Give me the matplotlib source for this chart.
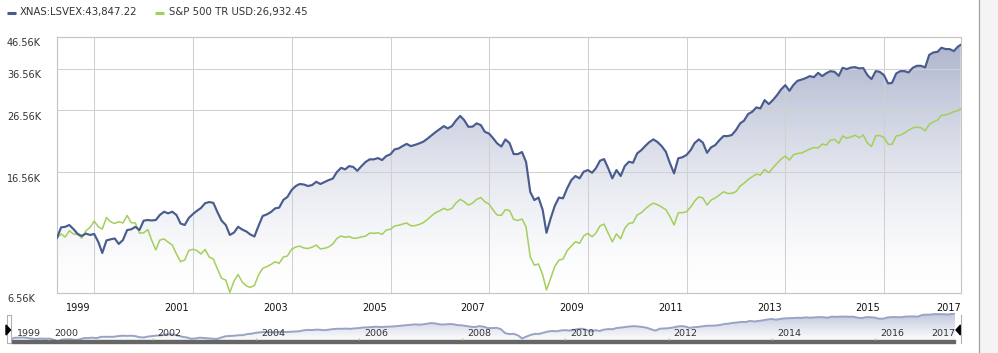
import numpy as np
import pandas as pd
import matplotlib
matplotlib.use('Agg')
import matplotlib.pyplot as plt
from matplotlib import transforms
from matplotlib.colors import LinearSegmentedColormap
from matplotlib.patches import Polygon, Rectangle
from matplotlib.lines import Line2D
from matplotlib.ticker import NullLocator

W, H = 998, 353

# month-end points, last one is a partial month
dates = list(pd.date_range('1999-04-01', periods=220, freq='MS') - pd.Timedelta(days=1))
dates.append(pd.Timestamp('2017-07-21'))

# growth of 10K, values in thousands
lsvex = [10.0, 10.84, 10.89, 11.04, 10.70, 10.31, 10.15, 10.34, 10.23, 10.31,
         9.69, 8.91, 9.81, 9.89, 9.96, 9.55, 9.84, 10.62, 10.68, 10.89,
         10.62, 11.41, 11.47, 11.43, 11.47, 11.92, 12.22, 12.07, 12.22, 11.92,
         11.17, 11.04, 11.65, 12.01, 12.32, 12.57, 13.05, 13.16, 13.08, 12.19,
         11.41, 11.04, 10.23, 10.42, 10.89, 10.66, 10.50, 10.27, 10.11, 10.96,
         11.83, 11.97, 12.19, 12.54, 12.61, 13.38, 13.69, 14.43, 14.88, 15.11,
         15.05, 14.88, 14.99, 15.37, 15.11, 15.34, 15.57, 15.75, 16.56, 17.10,
         16.90, 17.33, 17.22, 16.72, 17.33, 17.88, 18.25, 18.25, 18.43, 18.15,
         18.72, 18.96, 19.70, 19.82, 20.20, 20.54, 20.20, 20.38, 20.61, 20.88,
         21.36, 21.93, 22.48, 23.00, 23.54, 23.13, 23.54, 24.56, 25.45, 24.65,
         23.41, 23.44, 24.04, 23.72, 22.53, 22.23, 21.43, 20.62, 20.13, 21.26,
         20.67, 19.00, 19.00, 19.30, 17.88, 14.21, 13.36, 13.62, 12.38, 10.40,
         11.62, 12.77, 13.62, 13.54, 14.62, 15.57, 16.06, 15.78, 16.60, 16.81,
         16.47, 17.03, 18.06, 18.29, 17.03, 15.78, 16.81, 16.06, 17.33, 17.92,
         17.78, 19.10, 19.59, 20.20, 20.83, 21.26, 20.83, 20.20, 19.35, 17.70,
         16.39, 18.40, 18.54, 18.87, 19.59, 20.67, 21.26, 20.75, 19.19, 20.01,
         20.36, 21.15, 21.81, 21.81, 21.98, 22.83, 24.04, 24.52, 25.81, 26.26,
         27.16, 26.95, 28.72, 27.86, 28.72, 29.84, 31.17, 32.21, 30.84, 32.21,
         33.29, 33.60, 33.99, 34.51, 34.25, 35.39, 34.51, 35.31, 35.85, 35.66,
         34.59, 36.78, 36.41, 36.84, 36.97, 36.61, 36.69, 34.78, 33.73, 35.85,
         35.66, 34.78, 32.63, 32.78, 35.23, 35.85, 35.85, 35.50, 36.78, 37.35,
         37.35, 36.89, 40.60, 41.37, 41.56, 42.89, 42.45, 42.45, 41.79, 43.24,
         43.85]

sp500tr = [10.0, 10.31, 10.07, 10.56, 10.31, 10.27, 9.99, 10.56, 10.83, 11.38,
           10.89, 10.70, 11.69, 11.32, 11.17, 11.32, 11.21, 11.88, 11.24, 11.21,
           10.38, 10.40, 10.66, 9.84, 9.12, 9.84, 9.92, 9.69, 9.47, 8.84,
           8.34, 8.44, 9.08, 9.17, 9.07, 8.84, 9.16, 8.64, 8.51, 7.88,
           7.34, 7.24, 6.59, 7.19, 7.56, 7.13, 6.92, 6.85, 6.95, 7.53,
           7.92, 8.03, 8.16, 8.33, 8.23, 8.64, 8.71, 9.17, 9.33, 9.39,
           9.26, 9.22, 9.32, 9.47, 9.19, 9.24, 9.33, 9.55, 9.96, 10.15,
           10.05, 10.11, 9.97, 9.99, 10.09, 10.13, 10.38, 10.36, 10.40, 10.28,
           10.62, 10.68, 10.96, 11.01, 11.12, 11.21, 10.98, 10.98, 11.08, 11.24,
           11.51, 11.83, 12.13, 12.31, 12.54, 12.38, 12.54, 13.06, 13.43, 13.19,
           12.86, 13.05, 13.43, 13.62, 13.19, 12.96, 12.36, 11.92, 11.88, 12.42,
           12.33, 11.53, 11.43, 11.56, 10.87, 8.64, 8.12, 8.19, 7.53, 6.71,
           7.34, 8.03, 8.44, 8.50, 9.07, 9.40, 9.71, 9.60, 10.15, 10.36,
           10.09, 10.36, 10.96, 11.12, 10.36, 9.71, 10.31, 9.94, 10.76, 11.18,
           11.24, 11.92, 12.13, 12.47, 12.81, 13.05, 12.89, 12.67, 12.42, 11.77,
           11.04, 12.13, 12.13, 12.22, 12.67, 13.26, 13.69, 13.58, 12.86, 13.36,
           13.58, 13.89, 14.24, 14.05, 14.07, 14.24, 14.88, 15.19, 15.63, 15.97,
           16.30, 16.18, 16.90, 16.47, 17.10, 17.70, 18.29, 18.72, 18.15, 18.87,
           19.10, 19.15, 19.45, 19.75, 19.98, 19.90, 20.52, 20.36, 21.15, 21.26,
           20.63, 21.81, 21.46, 21.67, 21.95, 21.53, 21.98, 20.66, 20.15, 21.84,
           21.91, 21.56, 20.48, 20.46, 21.85, 21.94, 22.33, 22.80, 23.23, 23.35,
           23.25, 22.70, 23.85, 24.30, 24.65, 25.55, 25.65, 25.90, 26.30, 26.45,
           26.93]

legend_labels = ['XNAS:LSVEX:43,847.22', 'S&P 500 TR USD:26,932.45']
y_ticks = [6.56, 16.56, 26.56, 36.56, 46.56]
y_tick_labels = ['6.56K', '16.56K', '26.56K', '36.56K', '46.56K']
grid_years = [2000, 2002, 2004, 2006, 2008, 2010, 2012, 2014, 2016]
year_labels = ['1999', '2001', '2003', '2005', '2007', '2009', '2011', '2013', '2015', '2017']
nav_labels = ['1999', '2000', '2002', '2004', '2006', '2008', '2010', '2012', '2014', '2016', '2017']

BLUE = '#4a5c8e'
GREEN = '#a3cf5a'
GRID = '#d0d0d0'

plt.rcParams['font.family'] = ['DejaVu Sans']


def fig_box(x0, y0, x1, y1):
    return [x0 / W, 1 - y1 / H, (x1 - x0) / W, (y1 - y0) / H]


def px(x, y):
    return (x / W, 1 - y / H)


def gradient_fill(ax, x, y, base, top_color, power=1.5):
    poly = ax.fill_between(x, y, base, color='none', lw=0)
    grad = np.linspace(0, 1, 256) ** power
    cmap = LinearSegmentedColormap.from_list('g', ['#ffffff', top_color])
    img = ax.imshow(grad.reshape(-1, 1), extent=[0, 1, 0, 1], transform=ax.transAxes,
                    origin='lower', aspect='auto', cmap=cmap, vmin=0, vmax=1, zorder=0.2)
    img.set_clip_path(poly.get_paths()[0], poly.get_transform())


fig = plt.figure(figsize=(W / 100, H / 100), dpi=100)

# ---- main chart
ax = fig.add_axes(fig_box(57, 37, 960.7, 293))
ax.set_yscale('log')
gradient_fill(ax, dates, lsvex, y_ticks[0], '#abb3cc')
ax.plot(dates, sp500tr, color=GREEN, lw=1.1, zorder=3)
ax.plot(dates, lsvex, color=BLUE, lw=1.55, zorder=4)
ax.set_autoscale_on(False)
ax.set_xlim(dates[0], dates[-1])
ax.set_ylim(y_ticks[0], y_ticks[-1])
ax.set_yticks(y_ticks)
ax.yaxis.set_minor_locator(NullLocator())
grid_dates = [pd.Timestamp(f'{y}-01-01') for y in grid_years]
ax.set_xticks(grid_dates)
ax.tick_params(length=0, labelleft=False, labelbottom=False)
ax.grid(True, color=GRID, lw=0.75)
for s in ax.spines.values():
    s.set_color('#c4c4c4')
    s.set_linewidth(0.8)

ytrans = transforms.blended_transform_factory(fig.transFigure, ax.transData)
ytrans = transforms.offset_copy(ytrans, fig=fig, y=-1.5, units='dots')
for v, lab in zip(y_ticks, y_tick_labels):
    ax.text(7 / W, v, lab, transform=ytrans, ha='left', va='top',
            fontsize=7, color='#333333', clip_on=False)

xtrans = transforms.blended_transform_factory(ax.transData, fig.transFigure)
label_dates = grid_dates + [dates[-1]]
for i, (d, lab) in enumerate(zip(label_dates, year_labels)):
    shift = 0 if i == len(label_dates) - 1 else -4
    tr = transforms.offset_copy(xtrans, fig=fig, x=shift, units='dots')
    ax.text(d, 1 - 308 / H, lab, transform=tr, ha='right', va='center',
            fontsize=7, color='#111111', clip_on=False)

# ---- navigator
nav = fig.add_axes(fig_box(10.5, 313, 955, 343))
nav.set_yscale('log')
gradient_fill(nav, dates, lsvex, 7.0, '#c0c6db', power=1.2)
nav.plot(dates, lsvex, color='#9aa3c5', lw=1.4, zorder=3)
nav.set_autoscale_on(False)
nav.set_xlim(dates[0], dates[-1])
nav.set_ylim(8.0, 45.5)
nav.axis('off')
nav.add_patch(Rectangle((0, 0), 1, 0.1, transform=nav.transAxes,
                        color='#666666', zorder=5, clip_on=False))
nav.vlines(grid_dates, 0.1, 0.17, transform=nav.get_xaxis_transform(),
           color=GREEN, lw=0.9, zorder=5)
ntrans = transforms.blended_transform_factory(nav.transData, nav.transAxes)
nav_dates = [dates[0]] + grid_dates + [pd.Timestamp('2017-01-01')]
for i, (d, lab) in enumerate(zip(nav_dates, nav_labels)):
    tr = transforms.offset_copy(ntrans, fig=fig, x=6 if i == 0 else 5, units='dots')
    nav.text(d, 0.33, lab, transform=tr, ha='left', va='center',
             fontsize=6.8, color='#333333', zorder=6, clip_on=False)

# navigator handles
fig.add_artist(Rectangle(px(7, 343), 4 / W, 28 / H, transform=fig.transFigure,
                         facecolor='white', edgecolor='#b0b0b0', lw=0.8))
fig.add_artist(Polygon([px(6, 325), px(10.5, 330), px(6, 335)], closed=True,
                       transform=fig.transFigure, color='black'))
fig.add_artist(Line2D([960.5 / W] * 2, [1 - 315 / H, 1 - 343 / H],
                      transform=fig.transFigure, color='#b0b0b0', lw=0.8))
fig.add_artist(Polygon([px(960.5, 325), px(956, 330), px(960.5, 335)], closed=True,
                       transform=fig.transFigure, color='black'))

# right-hand panel edge
fig.add_artist(Rectangle(px(979, H), (W - 979) / W, 1, transform=fig.transFigure,
                         facecolor='#f4f4f4', edgecolor='none'))
fig.add_artist(Line2D([979 / W] * 2, [0, 1], transform=fig.transFigure,
                      color='#a0a0a0', lw=0.9))

# ---- legend
for (x0, x1, xt), col, lab in zip([(7, 16, 20), (155, 164, 169)], [BLUE, GREEN], legend_labels):
    fig.add_artist(Line2D([x0 / W, x1 / W], [1 - 12.5 / H] * 2, transform=fig.transFigure,
                          color=col, lw=2.2, solid_capstyle='butt'))
    fig.text(xt / W, 1 - 12.5 / H, lab, ha='left', va='center', fontsize=7.3, color='#333333')

fig.savefig('out.png', dpi=100)
